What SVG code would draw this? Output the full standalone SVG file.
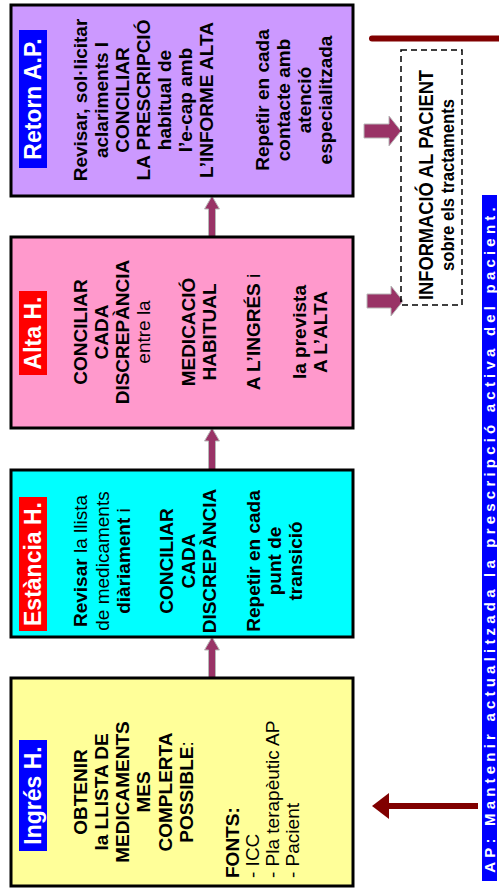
<svg xmlns="http://www.w3.org/2000/svg" width="499" height="889" viewBox="0 0 499 889">
<style>
text{font-family:"Liberation Sans",Arial,sans-serif;}
.box{stroke:#000;stroke-width:3;}
.t{font-size:19px;font-weight:bold;text-anchor:middle;fill:#000;}
.r{font-weight:normal;}
.s{font-size:19px;font-weight:normal;text-anchor:start;fill:#000;}
.sb{font-weight:bold;}
.lab{font-size:23px;font-weight:bold;fill:#fff;text-anchor:middle;}
.arr{fill:#993366;stroke:#b8b8b8;stroke-width:1;}
.dk{stroke:#800000;stroke-width:6;fill:none;}
</style>
<rect width="499" height="889" fill="#fff"/>
<g id="connectors">
<polygon class="arr" points="208.5,237 208.5,209 204.5,209 212,196 219.5,209 215.5,209 215.5,237"/>
<polygon class="arr" points="208.5,470 208.5,441 204.5,441 212,428 219.5,441 215.5,441 215.5,470"/>
<polygon class="arr" points="208.5,678 208.5,650 204.5,650 212,637 219.5,650 215.5,650 215.5,678"/>
<polygon class="arr" points="364,124 389,124 389,116 401,131 389,146 389,138 364,138"/>
<polygon class="arr" points="367,294 391,294 391,286 403,301 391,316 391,308 367,308"/>
<line class="dk" x1="372" y1="38.5" x2="499" y2="38.5" stroke-linecap="round"/>
<line class="dk" x1="386" y1="806" x2="478" y2="806"/>
<polygon fill="#800000" points="372,806 389,793 389,819"/>
</g>
<g id="retorn">
<rect class="box" x="11" y="5" width="342" height="191" fill="#CC99FF"/>
<rect x="19" y="30" width="28" height="138" fill="#0000FF"/>
<text class="lab" transform="translate(0,99) rotate(-90)" x="0" y="41.2">Retorn A.P.</text>
<g transform="translate(0,100) rotate(-90)">
<text class="t" x="0" y="86.8">Revisar, sol·licitar</text>
<text class="t" x="0" y="107.8">aclariments I</text>
<text class="t" x="0" y="128.8">CONCILIAR</text>
<text class="t" x="0" y="149.8">LA PRESCRIPCIÓ</text>
<text class="t" x="0" y="170.8">habitual de</text>
<text class="t" x="0" y="191.8">l’e-cap amb</text>
<text class="t" x="0" y="212.8">L’INFORME ALTA</text>
<text class="t" x="0" y="268.8">Repetir en cada</text>
<text class="t" x="0" y="289.8">contacte amb</text>
<text class="t" x="0" y="310.8">atenció</text>
<text class="t" x="0" y="331.8">especialitzada</text>
</g>
</g>
<g id="alta">
<rect class="box" x="11" y="237" width="342" height="191" fill="#FF99CC"/>
<rect x="19" y="291" width="28" height="84" fill="#FF0000"/>
<text class="lab" transform="translate(0,333) rotate(-90)" x="0" y="41.2">Alta H.</text>
<g transform="translate(0,332) rotate(-90)">
<text class="t" x="0" y="86.8">CONCILIAR</text>
<text class="t" x="0" y="107.8">CADA</text>
<text class="t" x="0" y="128.8">DISCREPÀNCIA</text>
<text class="t r" x="0" y="149.8">entre la</text>
<text class="t" x="0" y="194.8">MEDICACIÓ</text>
<text class="t" x="0" y="215.8">HABITUAL</text>
<text class="t" x="0" y="259.8">A L’INGRÉS <tspan class="r">i</tspan></text>
<text class="t" x="0" y="305.8">la prevista</text>
<text class="t" x="0" y="326.8">A L’ALTA</text>
</g>
</g>
<g id="estancia">
<rect class="box" x="11" y="470" width="342" height="167" fill="#00FFFF"/>
<rect x="19" y="497" width="28" height="134" fill="#FF0000"/>
<text class="lab" transform="translate(0,564) rotate(-90)" x="0" y="41.2">Estància H.</text>
<g transform="translate(0,561) rotate(-90)">
<text class="t" x="0" y="86.8">Revisar <tspan class="r"> la llista</tspan></text>
<text class="t r" x="0" y="108.8">de medicaments</text>
<text class="t" x="0" y="129.8">diàriament <tspan class="r">i</tspan></text>
<text class="t" x="0" y="172.8">CONCILIAR</text>
<text class="t" x="0" y="194.8">CADA</text>
<text class="t" x="0" y="215.8">DISCREPÀNCIA</text>
<text class="t" x="0" y="259.8">Repetir en cada</text>
<text class="t" x="0" y="280.8">punt de</text>
<text class="t" x="0" y="301.8">transició</text>
</g>
</g>
<g id="ingres">
<rect class="box" x="11" y="678" width="342" height="208" fill="#FFFF99"/>
<rect x="19" y="740" width="28" height="111" fill="#0000FF"/>
<text class="lab" transform="translate(0,795.5) rotate(-90)" x="0" y="41.2">Ingrés H.</text>
<g transform="translate(0,792) rotate(-90)">
<text class="t" x="0" y="86.8">OBTENIR</text>
<text class="t" x="0" y="107.8">la LLISTA DE</text>
<text class="t" x="0" y="128.8">MEDICAMENTS</text>
<text class="t" x="0" y="149.8">MES</text>
<text class="t" x="0" y="171.8">COMPLERTA</text>
<text class="t" x="0" y="192.8">POSSIBLE<tspan class="r">:</tspan></text>
<text class="s sb" x="-86" y="238.8">FONTS:</text>
<text class="s" x="-86" y="258.8">- ICC</text>
<text class="s" x="-86" y="278.8">- Pla terapèutic AP</text>
<text class="s" x="-86" y="298.8">- Pacient</text>
</g>
</g>
<g id="informacio">
<rect x="401" y="50" width="61" height="255" fill="none" stroke="#000" stroke-width="1.5" stroke-dasharray="6,4"/>
<g transform="translate(0,185) rotate(-90)">
<text x="0" y="432.5" font-size="21" font-weight="bold" text-anchor="middle" textLength="230" lengthAdjust="spacingAndGlyphs">INFORMACIÓ AL PACIENT</text>
<text x="0" y="454" font-size="19" font-weight="bold" text-anchor="middle" textLength="172" lengthAdjust="spacingAndGlyphs">sobre els tractaments</text>
</g>
</g>
<g id="ap-band">
<rect x="482" y="195" width="15" height="686" fill="#0000FF"/>
<text transform="translate(0,540) rotate(-90)" x="2" y="494.8" font-size="15" font-weight="bold" fill="#fff" text-anchor="middle" letter-spacing="4.2">AP: Mantenir actualitzada la prescripció activa del pacient.</text>
</g>
</svg>
